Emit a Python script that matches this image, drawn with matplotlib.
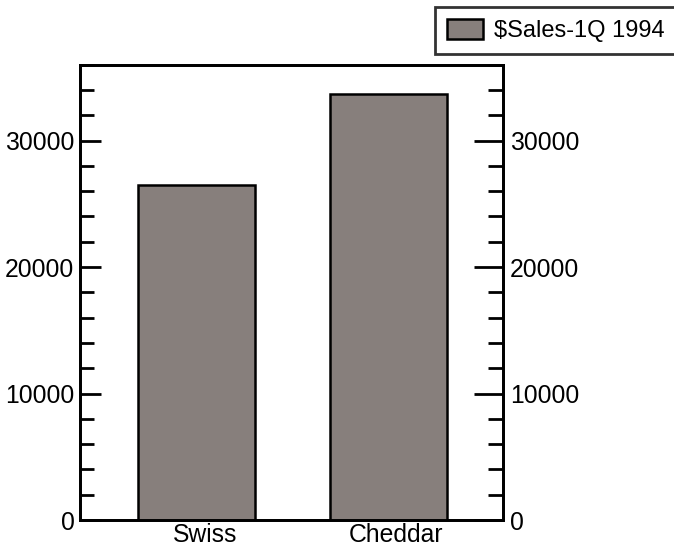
import matplotlib
matplotlib.use("Agg")
import matplotlib.pyplot as plt
import matplotlib.transforms as mtransforms
from matplotlib.ticker import MultipleLocator

categories = ["Swiss", "Cheddar"]
sales = [26500, 33700]
series_name = "$Sales-1Q 1994"
y_max = 36000
major_ticks = [0, 10000, 20000, 30000]

plt.rcParams['font.family'] = ['Liberation Sans', 'DejaVu Sans']
plt.rcParams['font.size'] = 17.8

fig = plt.figure(figsize=(6.74, 5.47), dpi=100)
ax = fig.add_axes([80/674, 27/547, 423.3/674, 455.3/547])

bar_color = "#877f7c"
x = list(range(len(categories)))
bars = ax.bar(x, sales, width=0.61, color=bar_color, edgecolor="black",
              linewidth=1.8, label=series_name, zorder=3)

ax.set_xlim(-0.609, 1.6)
ax.set_ylim(0, y_max)
ax.set_xticks(x)
ax.set_xticklabels(categories)
ax.tick_params(axis='x', length=0, pad=2)
offset = mtransforms.ScaledTranslation(8/100, 0, fig.dpi_scale_trans)
for lbl in ax.get_xticklabels():
    lbl.set_transform(lbl.get_transform() + offset)

ax.set_yticks(major_ticks)
ax.yaxis.set_minor_locator(MultipleLocator(2000))
ax.tick_params(axis='y', which='major', direction='in', length=15, width=2, pad=4)
ax.tick_params(axis='y', which='minor', direction='in', length=10, width=2)

for s in ax.spines.values():
    s.set_linewidth(2)

ax2 = ax.twinx()
ax2.set_ylim(0, y_max)
ax2.set_yticks(major_ticks)
ax2.yaxis.set_minor_locator(MultipleLocator(2000))
ax2.tick_params(axis='y', which='major', direction='in', length=21, width=2, pad=5)
ax2.tick_params(axis='y', which='minor', direction='in', length=11, width=2)
for s in ax2.spines.values():
    s.set_linewidth(2)

leg = fig.legend(handles=[bars], labels=[series_name], loc='upper left',
                 bbox_to_anchor=(435/674, 1 - 7/547), frameon=True, fancybox=False,
                 borderpad=0.5, handlelength=1.55, handleheight=0.92,
                 handletextpad=0.45, borderaxespad=0, fontsize=17)
leg.get_frame().set_edgecolor("black")
leg.get_frame().set_linewidth(2)

fig.savefig("out.png", dpi=100)
